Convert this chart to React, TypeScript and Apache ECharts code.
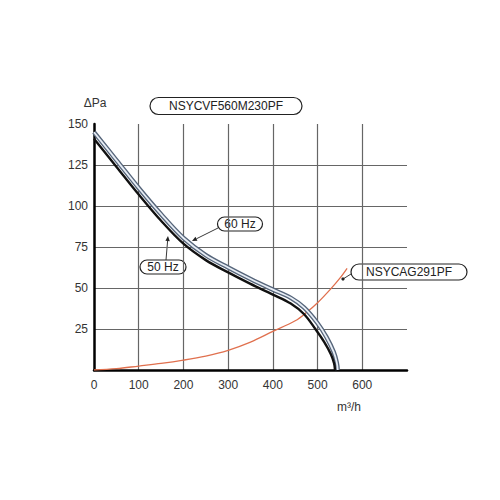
import { useEffect, useRef } from "react";
import * as echarts from "echarts";

// Fan curve NSYCVF560M230PF (flow m³/h, pressure Pa)
const flow50 = [0, 50, 100, 150, 200, 250, 300, 350, 400, 440, 470, 495, 515, 530, 537, 539];
const pa50 = [141, 124, 107, 91, 77, 67, 59.5, 52.5, 46, 40.5, 34, 25, 17, 9.5, 4, 0];

const flow60 = [0, 50, 100, 150, 200, 250, 300, 350, 400, 440, 470, 500, 520, 536, 543, 545];
const pa60 = [145, 128, 111, 95, 80.5, 70, 62.5, 55.5, 49, 44, 38, 28.5, 20, 11, 4.5, 0];

// System curve of filter NSYCAG291PF
const flowSys = [0, 50, 100, 150, 200, 250, 300, 350, 400, 450, 475, 500, 528, 550, 566];
const paSys = [0, 0.8, 2.4, 4, 6, 8.5, 12, 17, 23.5, 30, 35, 41, 49, 56, 62];

const xTicks = [0, 100, 200, 300, 400, 500, 600];
const yTicks = [25, 50, 75, 100, 125, 150];

const FONT = "Liberation Sans";
const INK = "#222";

const pairs = (xs: number[], ys: number[]) => xs.map((x, i) => [x, ys[i]]);

function capsule(cx: number, cy: number, w: number, h: number, text: string, size = 12) {
  return {
    type: "group",
    children: [
      {
        type: "rect",
        shape: { x: cx - w / 2, y: cy - h / 2, width: w, height: h, r: h / 2 },
        style: { fill: "#fff", stroke: INK, lineWidth: 1.2 },
      },
      {
        type: "text",
        x: cx,
        y: cy,
        style: { text, fill: INK, font: `${size}px "${FONT}"`, align: "center", verticalAlign: "middle" },
      },
    ],
  };
}

function arrow(x1: number, y1: number, x2: number, y2: number) {
  const a = Math.atan2(y2 - y1, x2 - x1);
  const L = 5;
  const W = 2.2;
  const bx = x2 - L * Math.cos(a);
  const by = y2 - L * Math.sin(a);
  return [
    { type: "line", shape: { x1, y1, x2: bx, y2: by }, style: { stroke: INK, lineWidth: 0.9 } },
    {
      type: "polygon",
      shape: {
        points: [
          [x2, y2],
          [bx + W * Math.sin(a), by - W * Math.cos(a)],
          [bx - W * Math.sin(a), by + W * Math.cos(a)],
        ],
      },
      style: { fill: INK },
    },
  ];
}

export default function App() {
  const ref = useRef<HTMLDivElement>(null);
  useEffect(() => {
    if (!ref.current) return;
    const chart = echarts.init(ref.current, undefined, { renderer: "svg" });
    const curve = (name: string, data: number[][], color: string, width: number, z: number) => ({
      name,
      type: "line",
      data,
      smooth: 0.35,
      symbol: "none",
      lineStyle: { color, width },
      z,
    });
    chart.setOption({
      animation: false,
      backgroundColor: "#fff",
      grid: { left: 94, right: 93, top: 124, bottom: 130 },
      xAxis: {
        type: "value",
        min: 0,
        max: 700,
        interval: 100,
        axisLine: { show: true, lineStyle: { color: "#000", width: 2.5 } },
        axisTick: { show: false },
        axisLabel: {
          color: "#333",
          fontFamily: FONT,
          fontSize: 12,
          margin: 9,
          formatter: (v: number) => (xTicks.includes(v) ? String(v) : ""),
        },
        splitLine: { show: true, showMinLine: false, showMaxLine: false, lineStyle: { color: "#666", width: 1.2 } },
      },
      yAxis: {
        type: "value",
        min: 0,
        max: 150,
        interval: 25,
        axisLine: { show: true, lineStyle: { color: "#000", width: 2.5 } },
        axisTick: { show: false },
        axisLabel: {
          color: "#333",
          fontFamily: FONT,
          fontSize: 12,
          margin: 6,
          formatter: (v: number) => (yTicks.includes(v) ? String(v) : ""),
        },
        splitLine: { show: true, showMinLine: false, showMaxLine: false, lineStyle: { color: "#666", width: 1.2 } },
      },
      series: [
        curve("NSYCAG291PF", pairs(flowSys, paSys), "#e0704e", 1.3, 2),
        curve("60 Hz outline", pairs(flow60, pa60), "#56657a", 4.5, 3),
        curve("60 Hz", pairs(flow60, pa60), "#e8eef6", 1.8, 4),
        curve("50 Hz", pairs(flow50, pa50), "#111", 2.4, 5),
      ],
      graphic: [
        {
          type: "text",
          x: 95,
          y: 103,
          style: { text: "ΔPa", fill: "#333", font: `12px "${FONT}"`, align: "center", verticalAlign: "middle" },
        },
        {
          type: "text",
          x: 349,
          y: 407,
          style: { text: "m³/h", fill: "#333", font: `12px "${FONT}"`, align: "center", verticalAlign: "middle" },
        },
        capsule(226, 106, 152, 17, "NSYCVF560M230PF", 12),
        capsule(240, 224, 45, 14, "60 Hz", 12),
        capsule(163, 267, 46, 14, "50 Hz", 12),
        capsule(409, 272, 116, 16, "NSYCAG291PF", 12),
        ...arrow(218, 228, 192, 241),
        ...arrow(166, 260, 168, 236),
        { type: "line", shape: { x1: 351, y1: 274, x2: 343, y2: 279 }, style: { stroke: INK, lineWidth: 0.9 } },
        { type: "circle", shape: { cx: 343, cy: 279, r: 1.6 }, style: { fill: INK } },
      ],
    });
    return () => chart.dispose();
  }, []);
  return <div ref={ref} style={{ position: "fixed", left: 0, top: 0, width: 500, height: 500, background: "#fff" }} />;
}
